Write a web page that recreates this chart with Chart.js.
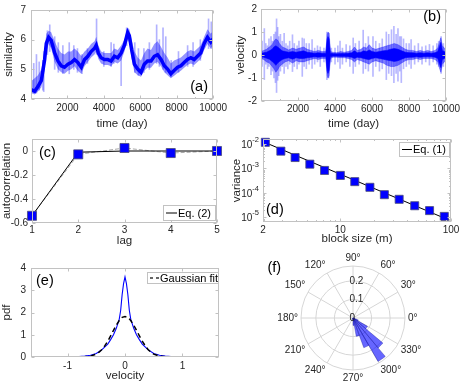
<!DOCTYPE html>
<html>
<head>
<meta charset="utf-8">
<script src="https://cdn.jsdelivr.net/npm/chart.js@4.4.1/dist/chart.umd.min.js"></script>
<style>
  html, body { margin: 0; padding: 0; background: #fff; }
  #fig { position: relative; width: 463px; height: 386px; overflow: hidden; }
  canvas { position: absolute; }
</style>
</head>
<body>
<div id="fig">
  <canvas id="pa" width="231" height="130" style="left:0;top:0"></canvas>
  <canvas id="pb" width="232" height="130" style="left:231px;top:0"></canvas>
  <canvas id="pc" width="231" height="128" style="left:0;top:130px"></canvas>
  <canvas id="pd" width="232" height="128" style="left:231px;top:130px"></canvas>
  <canvas id="pe" width="231" height="128" style="left:0;top:258px"></canvas>
  <canvas id="pf" width="232" height="142" style="left:231px;top:244px"></canvas>
</div>
<script>
// (a) similarity vs time: centre of the dense band and its lighter halo
const simT   = [0, 200, 380, 570, 750, 840, 970, 1110, 1300, 1480, 1660, 1840, 2030, 2210, 2390, 2570, 2760, 2940, 3120, 3300, 3490, 3580, 3700, 3850, 4030, 4220, 4400, 4580, 4760, 4950, 5130, 5310, 5400, 5530, 5680, 5860, 6040, 6220, 6400, 6590, 6770, 6950, 7140, 7320, 7500, 7680, 7860, 8050, 8230, 8410, 8590, 8780, 8960, 9140, 9320, 9510, 9690, 9870, 10000];
const simMid = [4.32, 4.26, 4.42, 4.63, 5.33, 5.87, 6.08, 5.98, 5.55, 5.28, 5.12, 5.07, 5.17, 5.23, 5.33, 5.23, 5.07, 5.33, 5.44, 5.6, 5.71, 5.81, 5.55, 5.39, 5.33, 5.33, 5.28, 5.44, 5.39, 5.55, 5.81, 6.24, 6.13, 5.65, 5.17, 5.01, 4.9, 5.17, 5.28, 5.28, 5.44, 5.49, 5.33, 5.12, 5.01, 4.85, 4.96, 5.07, 5.12, 5.23, 5.33, 5.39, 5.33, 5.44, 5.55, 5.87, 6.08, 5.92, 6.03];
const simHi  = [4.6, 4.7, 4.8, 5.0, 5.7, 6.2, 6.3, 6.25, 5.95, 5.7, 5.55, 5.5, 5.6, 5.6, 5.7, 5.6, 5.45, 5.6, 5.7, 5.85, 5.95, 6.1, 5.8, 5.6, 5.55, 5.55, 5.55, 5.7, 5.65, 5.8, 6.0, 6.4, 6.35, 6.0, 5.6, 5.4, 5.3, 5.55, 5.7, 5.65, 5.85, 5.95, 5.75, 5.55, 5.4, 5.2, 5.3, 5.35, 5.4, 5.5, 5.6, 5.65, 5.6, 5.7, 5.8, 6.1, 6.35, 6.2, 6.3];
const simLo  = [4.2, 4.15, 4.25, 4.4, 5.0, 5.6, 5.85, 5.7, 5.25, 5.0, 4.9, 4.85, 4.95, 5.0, 5.1, 4.95, 4.85, 5.1, 5.25, 5.4, 5.5, 5.6, 5.35, 5.2, 5.15, 5.15, 5.1, 5.25, 5.2, 5.3, 5.6, 6.0, 5.9, 5.35, 4.9, 4.8, 4.75, 4.95, 5.05, 5.05, 5.2, 5.25, 5.1, 4.9, 4.8, 4.7, 4.78, 4.88, 4.95, 5.05, 5.15, 5.2, 5.15, 5.25, 5.35, 5.65, 5.85, 5.7, 5.8];
// (a) isolated spikes
const simSpikeT  = [150, 300, 450, 650, 700, 900, 1030, 1300, 1500, 1750, 2100, 2350, 2550, 2800, 3100, 3600, 4000, 4400, 4550, 4950, 5250, 5700, 5900, 6200, 6500, 6900, 7050, 7250, 7400, 7700, 8100, 8600, 8900, 9300, 9750, 9900];
const simSpikeLo = [4.3, 4.2, 4.3, 4.3, 4.25, 5.5, 5.6, 5.0, 4.9, 4.85, 4.85, 5.0, 4.9, 4.85, 5.2, 5.5, 5.1, 5.1, 5.2, 4.45, 5.8, 4.9, 4.8, 4.9, 5.0, 5.2, 5.1, 5.0, 4.9, 4.75, 4.9, 5.1, 5.1, 5.3, 5.7, 5.7];
const simSpikeHi = [5.2, 5.5, 5.25, 5.3, 5.6, 6.3, 6.5, 6.1, 5.9, 5.8, 5.9, 5.8, 5.7, 5.5, 5.7, 6.7, 5.6, 5.9, 5.85, 5.6, 6.4, 5.9, 5.7, 5.7, 5.9, 6.5, 6.0, 6.4, 6.1, 5.3, 5.6, 5.8, 5.9, 6.0, 6.7, 6.6];

// (b) velocity vs time: solid core, noisy band and spikes
const velT    = [0, 150, 300, 450, 600, 700, 800, 900, 1000, 1150, 1300, 1500, 1700, 1900, 2100, 2300, 2500, 2700, 2900, 3100, 3300, 3500, 3580, 3620, 3680, 3750, 3900, 4100, 4300, 4500, 4700, 4900, 5050, 5200, 5400, 5550, 5700, 5850, 6000, 6200, 6400, 6600, 6800, 7000, 7200, 7400, 7600, 7800, 8000, 8200, 8400, 8600, 8800, 9000, 9200, 9400, 9550, 9650, 9720, 9800, 9900, 10000];
const velBandHi = [0.15, 0.2, 0.25, 0.35, 0.45, 0.6, 0.7, 0.65, 0.5, 0.35, 0.3, 0.22, 0.3, 0.25, 0.3, 0.35, 0.25, 0.2, 0.15, 0.2, 0.15, 0.15, 0.9, 1.0, 0.95, 0.15, 0.12, 0.1, 0.15, 0.12, 0.15, 0.2, 0.35, 0.2, 0.25, 0.35, 0.3, 0.45, 0.3, 0.25, 0.3, 0.35, 0.4, 0.45, 0.5, 0.45, 0.35, 0.25, 0.2, 0.2, 0.15, 0.2, 0.15, 0.2, 0.15, 0.2, 0.3, 0.6, 0.75, 0.4, 0.3, 0.25];
const velBandLo = [-0.15, -0.2, -0.3, -0.35, -0.5, -0.6, -0.75, -0.65, -0.5, -0.4, -0.3, -0.25, -0.35, -0.25, -0.3, -0.3, -0.25, -0.2, -0.15, -0.2, -0.15, -0.15, -0.9, -1.0, -0.9, -0.15, -0.1, -0.1, -0.12, -0.12, -0.15, -0.2, -0.3, -0.2, -0.25, -0.3, -0.35, -0.4, -0.3, -0.25, -0.3, -0.35, -0.45, -0.5, -0.5, -0.45, -0.35, -0.25, -0.2, -0.2, -0.15, -0.2, -0.15, -0.15, -0.15, -0.2, -0.3, -0.6, -0.75, -0.4, -0.3, -0.25];
const velCoreHi = [0.08, 0.1, 0.12, 0.18, 0.25, 0.35, 0.4, 0.35, 0.28, 0.18, 0.15, 0.12, 0.15, 0.12, 0.15, 0.18, 0.12, 0.1, 0.08, 0.1, 0.08, 0.08, 0.7, 0.8, 0.7, 0.08, 0.06, 0.05, 0.07, 0.06, 0.08, 0.1, 0.18, 0.1, 0.12, 0.18, 0.15, 0.22, 0.15, 0.12, 0.15, 0.18, 0.2, 0.25, 0.28, 0.25, 0.18, 0.12, 0.1, 0.1, 0.08, 0.1, 0.08, 0.1, 0.08, 0.1, 0.15, 0.4, 0.55, 0.2, 0.15, 0.12];
const velCoreLo = [-0.08, -0.1, -0.14, -0.18, -0.28, -0.35, -0.45, -0.35, -0.28, -0.2, -0.15, -0.12, -0.18, -0.12, -0.15, -0.15, -0.12, -0.1, -0.08, -0.1, -0.08, -0.08, -0.7, -0.8, -0.65, -0.08, -0.05, -0.05, -0.06, -0.06, -0.08, -0.1, -0.15, -0.1, -0.12, -0.15, -0.18, -0.2, -0.15, -0.12, -0.15, -0.18, -0.22, -0.25, -0.28, -0.25, -0.18, -0.12, -0.1, -0.1, -0.08, -0.1, -0.08, -0.08, -0.08, -0.1, -0.15, -0.4, -0.55, -0.2, -0.15, -0.12];
const velSpikeT  = [60, 180, 260, 350, 430, 540, 620, 700, 780, 840, 900, 960, 1050, 1150, 1250, 1350, 1450, 1550, 1700, 1800, 1950, 2050, 2230, 2330, 2450, 2600, 2760, 2900, 3050, 3200, 3400, 3560, 3650, 3800, 4000, 4150, 4270, 4400, 4600, 4800, 4980, 5100, 5300, 5520, 5650, 5800, 6050, 6200, 6400, 6550, 6770, 6900, 7050, 7180, 7300, 7400, 7500, 7580, 7700, 7850, 8000, 8110, 8300, 8500, 8700, 8900, 9100, 9300, 9500, 9600, 9730, 9850, 10000];
const velSpikeLo = [-0.5, -1.07, -0.4, -0.6, -0.5, -0.86, -0.7, -1.0, -1.2, -1.63, -1.1, -0.9, -0.7, -0.5, -0.8, -0.5, -0.6, -0.4, -0.72, -0.5, -0.6, -0.4, -0.93, -0.5, -0.6, -0.4, -0.58, -0.4, -0.3, -0.5, -0.3, -1.07, -1.0, -0.3, -0.4, -0.3, -0.58, -0.4, -0.3, -0.5, -0.8, -0.5, -0.4, -0.8, -0.6, -0.7, -0.93, -0.5, -0.7, -0.6, -1.07, -0.8, -0.9, -1.2, -0.8, -1.14, -0.7, -1.2, -0.6, -0.5, -0.4, -0.58, -0.4, -0.3, -0.4, -0.3, -0.44, -0.3, -0.4, -0.5, -0.8, -0.5, -0.38];
const velSpikeHi = [0.6, 1.15, 0.5, 0.4, 0.7, 0.8, 0.6, 0.9, 1.0, 1.57, 1.2, 0.8, 0.9, 0.6, 0.94, 0.5, 0.4, 0.6, 0.88, 0.5, 0.4, 0.6, 0.74, 0.7, 0.5, 0.5, 0.67, 0.3, 0.4, 0.35, 0.3, 1.0, 0.95, 0.3, 0.3, 0.4, 0.6, 0.3, 0.45, 0.4, 0.74, 0.5, 0.6, 1.08, 0.5, 0.8, 0.8, 0.6, 0.5, 0.7, 1.0, 0.9, 1.1, 1.25, 0.9, 1.15, 0.8, 0.8, 0.7, 0.5, 0.5, 0.67, 0.4, 0.5, 0.35, 0.4, 0.46, 0.4, 0.5, 0.6, 0.8, 0.5, 0.4];

// (c) autocorrelation
const lags    = [1, 2, 3, 4, 5];
const acVals  = [-0.54, -0.028, 0.025, -0.017, 0];
const eq2Vals = [-0.54, -0.01, 0, 0, 0];

// (d) variance vs block size
const blockM = [2.1, 2.9, 3.9, 5.3, 7.2, 10, 13.5, 18.5, 25, 34, 47, 64, 87];
const varV   = [0.0117, 0.0051, 0.0028, 0.0015, 0.00083, 0.00052, 0.00029, 0.00017, 0.000085, 0.000055, 0.00003, 0.000019, 0.000011];
const eq1M   = [2, 100];
const eq1V   = [0.0125, 0.0000072];

// (e) pdf of velocity
const pdfX = [-1.635, -1.2, -1.0, -0.8, -0.7, -0.6, -0.5, -0.4, -0.3, -0.25, -0.2, -0.15, -0.1, -0.075, -0.05, -0.025, 0, 0.025, 0.05, 0.075, 0.1, 0.15, 0.2, 0.25, 0.3, 0.4, 0.5, 0.6, 0.7, 0.8, 1.0, 1.2, 1.635];
const pdfY = [0, 0, 0.01, 0.02, 0.04, 0.08, 0.16, 0.33, 0.58, 0.78, 1.0, 1.3, 1.7, 2.1, 2.8, 3.3, 3.6, 3.3, 2.8, 2.1, 1.7, 1.3, 1.0, 0.78, 0.58, 0.33, 0.16, 0.08, 0.04, 0.02, 0.01, 0, 0];
const gaussX = [-1.635, -0.8, -0.7, -0.6, -0.5, -0.45, -0.4, -0.35, -0.3, -0.25, -0.2, -0.15, -0.1, -0.05, 0, 0.05, 0.1, 0.15, 0.2, 0.25, 0.3, 0.35, 0.4, 0.45, 0.5, 0.6, 0.7, 0.8, 1.635];
const gaussY = [0, 0, 0.01, 0.04, 0.13, 0.22, 0.34, 0.51, 0.71, 0.95, 1.2, 1.44, 1.64, 1.78, 1.82, 1.78, 1.64, 1.44, 1.2, 0.95, 0.71, 0.51, 0.34, 0.22, 0.13, 0.04, 0.01, 0, 0];

// (f) polar histogram of direction, 10 degree bins counter-clockwise from 0
const roseBinDeg = 10;
const roseVals = [0, 0, 0, 0, 0, 0, 0, 0, 0, 0, 0, 0, 0, 0, 0, 0, 0, 0, 0, 0, 0, 0, 0, 0, 0, 0, 0.01, 0.04, 0.1, 0.17, 0.27, 0.21, 0.09, 0.03, 0.01, 0];

// tick labels
const dayTicks   = [2000, 4000, 6000, 8000, 10000];
const dayMinor   = [1000, 3000, 5000, 7000, 9000];
const simTicks   = [4, 5, 6, 7];
const velTicks   = [-2, -1, 0, 1, 2];
const acTicks    = [-0.6, -0.4, -0.2, 0];
const blockTicks = [2, 10, 100];
const varTicks   = [1e-5, 1e-4, 1e-3, 1e-2];
const pdfXTicks  = [-1, 0, 1];
const pdfYTicks  = [0, 1, 2, 3, 4];
const rTicks     = [0, 0.1, 0.2];
const thetaTicks = [0, 30, 60, 90, 120, 150, 180, 210, 240, 270, 300, 330];

const FONT = '"Liberation Sans", Arial, Helvetica, sans-serif';
const INK = '#262626';
const BOX = '#c2c2c2';
const BLUE = '#0000ff';

const xy = (xs, ys) => xs.map((x, i) => ({x, y: ys[i]}));
const spans = (xs, lo, hi) => xs.map((x, i) => ({x, y: [lo[i], hi[i]]}));

function logMinor(lo, hi) {
  const out = [];
  for (let e = Math.floor(Math.log10(lo)); e <= Math.ceil(Math.log10(hi)); e++) {
    for (let k = 2; k <= 9; k++) {
      const v = k * Math.pow(10, e);
      if (v > lo && v < hi) out.push(v);
    }
  }
  return out;
}

// matlab style box with inward ticks, panel tag and legend
const matlabAxes = {
  id: 'matlabAxes',
  afterDatasetsDraw(chart, args, o) {
    const {ctx, chartArea: a} = chart;
    const sx = chart.scales.x, sy = chart.scales.y;
    const L = Math.round(a.left) + 0.5, R = Math.round(a.right) - 0.5;
    const T = Math.round(a.top) + 0.5, B = Math.round(a.bottom) - 0.5;
    ctx.save();
    ctx.strokeStyle = BOX;
    ctx.lineWidth = 1;
    ctx.beginPath();
    sx.ticks.forEach(t => {
      const x = Math.round(sx.getPixelForValue(t.value)) + 0.5;
      const len = t.minor ? 1.5 : 3;
      ctx.moveTo(x, B); ctx.lineTo(x, B - len);
      ctx.moveTo(x, T); ctx.lineTo(x, T + len);
    });
    sy.ticks.forEach(t => {
      const y = Math.round(sy.getPixelForValue(t.value)) + 0.5;
      const len = t.minor ? 1.5 : 3;
      ctx.moveTo(L, y); ctx.lineTo(L + len, y);
      ctx.moveTo(R, y); ctx.lineTo(R - len, y);
    });
    ctx.stroke();
    ctx.strokeRect(L, T, R - L, B - T);

    if (o.supY) {
      ctx.fillStyle = INK;
      ctx.textBaseline = 'middle';
      ctx.textAlign = 'left';
      sy.ticks.forEach(t => {
        if (t.minor) return;
        const y = sy.getPixelForValue(t.value);
        const e = String(Math.round(Math.log10(t.value)));
        ctx.font = `7.5px ${FONT}`;
        const ew = ctx.measureText(e).width;
        const xr = a.left - 4;
        ctx.fillText(e, xr - ew, y - 4);
        ctx.font = `10px ${FONT}`;
        const bw = ctx.measureText('10').width;
        ctx.fillText('10', xr - ew - bw, y + 1);
      });
    }

    if (o.legend) {
      const g = o.legend;
      ctx.fillStyle = '#fff';
      ctx.fillRect(g.x, g.y, g.w, g.h);
      ctx.strokeStyle = BOX;
      ctx.strokeRect(g.x + 0.5, g.y + 0.5, g.w, g.h);
      ctx.strokeStyle = '#000';
      ctx.lineWidth = g.lw;
      ctx.setLineDash(g.dash || []);
      ctx.beginPath();
      ctx.moveTo(g.x + 3, g.y + g.h / 2 + 0.5);
      ctx.lineTo(g.x + 3 + g.len, g.y + g.h / 2 + 0.5);
      ctx.stroke();
      ctx.setLineDash([]);
      ctx.fillStyle = '#000';
      ctx.font = `11px ${FONT}`;
      ctx.textAlign = 'left';
      ctx.textBaseline = 'middle';
      ctx.fillText(g.text, g.x + 4 + g.len, g.y + g.h / 2 + 1);
    }

    if (o.tag) {
      ctx.fillStyle = '#000';
      ctx.font = `14.5px ${FONT}`;
      ctx.textAlign = o.tag.align;
      ctx.textBaseline = 'middle';
      ctx.fillText(o.tag.text, o.tag.x, o.tag.y);
    }
    ctx.restore();
  }
};

function axis(a, dir) {
  return {
    type: a.type || 'linear',
    min: a.min,
    max: a.max,
    offset: false,
    grid: {display: false, drawTicks: false},
    border: {display: false},
    afterBuildTicks: s => {
      s.ticks = a.ticks.map(v => ({value: v}))
        .concat((a.minor || []).map(v => ({value: v, minor: true})))
        .sort((p, q) => p.value - q.value);
    },
    afterFit: s => { if (dir === 'x') s.height = a.size; else s.width = a.size; },
    ticks: {
      autoSkip: false,
      maxRotation: 0,
      padding: a.pad,
      color: INK,
      font: {family: FONT, size: 10, lineHeight: 1},
      callback: (v, i, t) => (t[i].minor || a.noLabels) ? '' : String(v)
    },
    title: {
      display: true,
      text: a.title,
      color: INK,
      font: {family: FONT, size: 11.5, lineHeight: 1},
      padding: dir === 'x' ? {top: 0, bottom: a.tpad} : {top: a.tpad, bottom: 0}
    }
  };
}

function panel(id, o) {
  return new Chart(document.getElementById(id), {
    type: 'line',
    data: {datasets: o.datasets},
    options: {
      responsive: false,
      animation: false,
      events: [],
      layout: {padding: o.pad},
      elements: {point: {radius: 0}, line: {tension: 0}},
      plugins: {legend: {display: false}, tooltip: {enabled: false}, matlabAxes: o.deco},
      scales: {x: axis(o.x, 'x'), y: axis(o.y, 'y')}
    },
    plugins: [matlabAxes]
  });
}

// (a)
panel('pa', {
  pad: {left: 0, top: 6, right: 16, bottom: 0},
  x: {min: 0, max: 10000, ticks: dayTicks, minor: dayMinor, size: 31, pad: 4, title: 'time (day)', tpad: 0.25},
  y: {min: 4, max: 7, ticks: simTicks, size: 31, pad: 5, title: 'similarity', tpad: 3.5},
  deco: {tag: {text: '(a)', x: 208, y: 87, align: 'right'}},
  datasets: [
    {data: xy(simT, simHi), borderWidth: 0, fill: '+1', backgroundColor: 'rgba(0,0,255,0.42)', order: 3},
    {data: xy(simT, simLo), borderWidth: 0, fill: false, order: 3},
    {type: 'bar', data: spans(simSpikeT, simSpikeLo, simSpikeHi), backgroundColor: 'rgba(0,0,255,0.3)', barThickness: 1, borderWidth: 0, order: 2},
    {data: xy(simT, simMid), borderColor: BLUE, borderWidth: 3.5, fill: false, order: 1}
  ]
});

// (b)
panel('pb', {
  pad: {left: 0, top: 5, right: 15, bottom: 0},
  x: {min: 0, max: 10000, ticks: dayTicks, minor: dayMinor, size: 29, pad: 3, title: 'time (day)', tpad: 0.25},
  y: {min: -2, max: 2, ticks: velTicks, size: 30, pad: 4, title: 'velocity', tpad: 4.25},
  deco: {tag: {text: '(b)', x: 210, y: 17, align: 'right'}},
  datasets: [
    {data: xy(velT, velCoreHi), borderColor: BLUE, borderWidth: 0.6, fill: '+1', backgroundColor: BLUE, order: 0},
    {data: xy(velT, velCoreLo), borderColor: BLUE, borderWidth: 0.6, fill: false, order: 0},
    {data: xy(velT, velBandHi), borderColor: 'rgba(0,0,255,0.5)', borderWidth: 0.6, fill: '+1', backgroundColor: 'rgba(0,0,255,0.5)', order: 1},
    {data: xy(velT, velBandLo), borderColor: 'rgba(0,0,255,0.5)', borderWidth: 0.6, fill: false, order: 1},
    {type: 'bar', data: spans(velSpikeT, velSpikeLo, velSpikeHi), backgroundColor: 'rgba(0,0,255,0.28)', barThickness: 1, borderWidth: 0, order: 2}
  ]
});

// (c)
panel('pc', {
  pad: {left: 0, top: 9, right: 14, bottom: 0},
  x: {min: 1, max: 5, ticks: lags, size: 35, pad: 2, title: 'lag', tpad: 11.25},
  y: {min: -0.6, max: 0.1, ticks: acTicks, size: 32, pad: 4, title: 'autocorrelation', tpad: 1.55},
  deco: {
    tag: {text: '(c)', x: 39, y: 23, align: 'left'},
    legend: {x: 163, y: 75, w: 52, h: 15, len: 11, lw: 1, text: 'Eq. (2)'}
  },
  datasets: [
    {data: xy(lags, acVals), showLine: false, pointStyle: 'rect', pointRadius: 6.4, pointBackgroundColor: BLUE, pointBorderColor: '#4a4a7a', pointBorderWidth: 0.8, clip: false, order: 0},
    {data: xy(lags, eq2Vals), borderColor: '#000', borderWidth: 1, fill: false, order: 1},
    {data: xy(lags, acVals), borderColor: '#a8a8a8', borderWidth: 1, borderDash: [4, 2], fill: false, order: 2}
  ]
});

// (d)
panel('pd', {
  pad: {left: 0, top: 6, right: 12, bottom: 0},
  x: {type: 'logarithmic', min: 2, max: 100, ticks: blockTicks, minor: logMinor(2, 100), size: 36, pad: 3, title: 'block size (m)', tpad: 12.95},
  y: {type: 'logarithmic', min: 6.5e-6, max: 1.6e-2, ticks: varTicks, minor: logMinor(6.5e-6, 1.6e-2), size: 32, pad: 4, title: 'variance', tpad: 0, noLabels: true},
  deco: {
    supY: true,
    tag: {text: '(d)', x: 35, y: 80, align: 'left'},
    legend: {x: 168, y: 12, w: 50, h: 14, len: 10, lw: 1, text: 'Eq. (1)'}
  },
  datasets: [
    {data: xy(blockM, varV), showLine: false, pointStyle: 'rect', pointRadius: 5.7, pointBackgroundColor: BLUE, pointBorderColor: '#4a4a7a', pointBorderWidth: 0.8, clip: false, order: 0},
    {data: xy(eq1M, eq1V), borderColor: '#000', borderWidth: 1, fill: false, order: 1}
  ]
});

// (e)
panel('pe', {
  pad: {left: 0, top: 6, right: 12, bottom: 0},
  x: {min: -1.635, max: 1.635, ticks: pdfXTicks, size: 29, pad: 4.3, title: 'velocity', tpad: 4.55},
  y: {min: 0, max: 4, ticks: pdfYTicks, size: 31, pad: 5, title: 'pdf', tpad: 1.55},
  deco: {
    tag: {text: '(e)', x: 36, y: 23, align: 'left'},
    legend: {x: 147, y: 14, w: 71, h: 11, len: 9, lw: 1.2, dash: [3, 3], text: 'Gaussian fit'}
  },
  datasets: [
    {data: xy(gaussX, gaussY), borderColor: '#000', borderWidth: 1.5, borderDash: [5, 3.5], fill: false, order: 0},
    {data: xy(pdfX, pdfY), borderColor: BLUE, borderWidth: 1.1, fill: false, order: 1}
  ]
});

// (f) polar histogram; Chart.js runs clockwise from the top, matlab counter-clockwise from the right
const nBins = roseVals.length;
const roseChart = [], roseLabels = [];
for (let i = 0; i < nBins; i++) {
  const k = ((90 / roseBinDeg - 1 - i) % nBins + nBins) % nBins;
  roseChart.push(roseVals[k]);
  roseLabels.push(k * roseBinDeg + '-' + (k + 1) * roseBinDeg);
}

const polarText = {
  id: 'polarText',
  afterDraw(chart) {
    const r = chart.scales.r, ctx = chart.ctx;
    const R = r.drawingArea;
    ctx.save();
    ctx.fillStyle = INK;
    ctx.font = `10px ${FONT}`;
    thetaTicks.forEach(deg => {
      const ang = deg * Math.PI / 180, c = Math.cos(ang), s = Math.sin(ang);
      ctx.textAlign = c > 0.1 ? 'left' : c < -0.1 ? 'right' : 'center';
      ctx.textBaseline = s > 0.1 ? 'bottom' : s < -0.1 ? 'top' : 'middle';
      ctx.fillText(deg + '°', r.xCenter + (R + 3) * c, r.yCenter - (R + 3) * s);
    });
    ctx.textAlign = 'left';
    ctx.textBaseline = 'middle';
    rTicks.forEach(v => ctx.fillText(String(v), r.xCenter - 3.5, r.yCenter - r.getDistanceFromCenterForValue(v)));
    ctx.fillStyle = '#000';
    ctx.font = `14.5px ${FONT}`;
    ctx.fillText('(f)', 36.5, 24);
    ctx.restore();
  }
};

new Chart(document.getElementById('pf'), {
  type: 'polarArea',
  data: {
    labels: roseLabels,
    datasets: [{
      data: roseChart,
      backgroundColor: 'rgba(0,0,255,0.6)',
      borderColor: 'rgba(20,20,150,0.6)',
      borderWidth: 0.6
    }]
  },
  options: {
    responsive: false,
    animation: false,
    events: [],
    layout: {padding: {left: 70, right: 58, top: 22, bottom: 16}},
    plugins: {legend: {display: false}, tooltip: {enabled: false}},
    scales: {
      r: {
        min: 0,
        max: 0.28,
        startAngle: 0,
        afterBuildTicks: s => { s.ticks = rTicks.concat([0.28]).map(v => ({value: v})); },
        ticks: {display: false},
        grid: {circular: true, color: '#d6d6d6', lineWidth: 1},
        angleLines: {display: true, color: '#d6d6d6', lineWidth: c => c.index % 3 === 0 ? 1 : 0},
        pointLabels: {display: false}
      }
    }
  },
  plugins: [polarText]
});
</script>
</body>
</html>
